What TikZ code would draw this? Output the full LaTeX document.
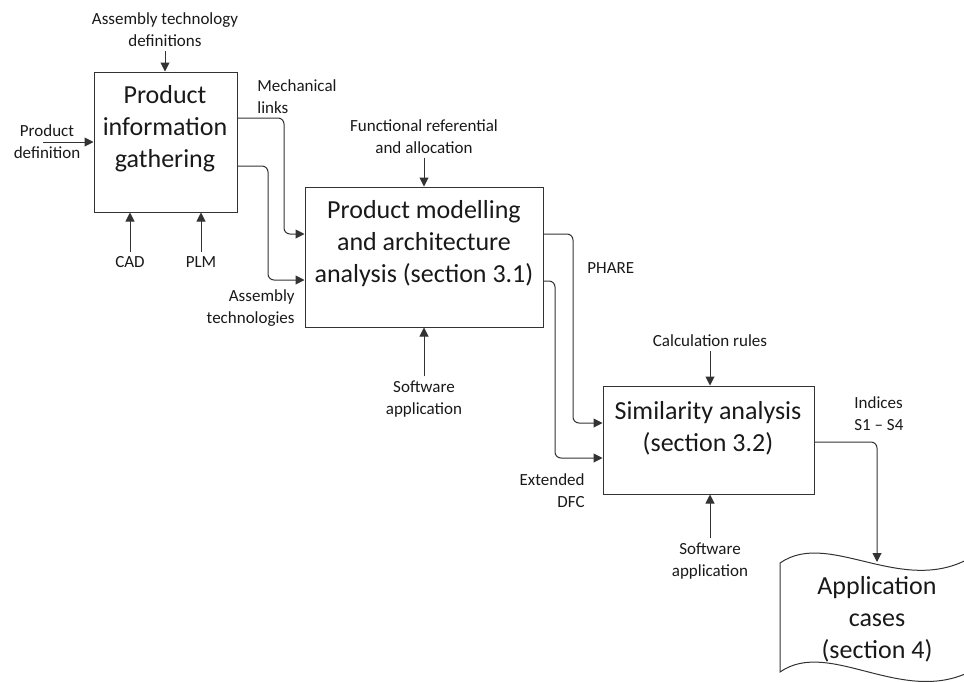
\documentclass[tikz,border=0pt]{standalone}
\usepackage{fontspec}
\setmainfont{Carlito}
\usetikzlibrary{arrows.meta}

\begin{document}
\begin{tikzpicture}
[x=0.5pt,y=-0.5pt,
 every node/.style={inner sep=2pt,text=black!90},
 lbl/.style={font=\fontsize{8.5}{11}\selectfont,align=center},
 box/.style={draw=black!80,line width=0.5pt},
 btext/.style={font=\fontsize{13}{16}\selectfont,align=center},
 arr/.style={draw=black!80,line width=0.5pt,-{Triangle[length=4.5pt,width=4.5pt]}},
 link/.style={arr,rounded corners=3pt}]
\useasboundingbox (0,0) rectangle (964,681);
% boxes
\node[box,minimum width=143pt*0.5,minimum height=140pt*0.5] (b1) at (165.5,142) {};
\node[box,minimum width=238pt*0.5,minimum height=140pt*0.5] (b2) at (424,257) {};
\node[box,minimum width=211pt*0.5,minimum height=108pt*0.5] (b3) at (708.5,440) {};
\node[btext] (t1) at (165,129) {Product\\information\\gathering};
\node[btext] (t2) at (424,244) {Product modelling\\and architecture\\analysis (section 3.1)};
\node[btext] (t3) at (708,428) {Similarity analysis\\(section 3.2)};
% document shape
\begin{scope}
\clip (0,0) rectangle (964,681);
\draw[box] (780,563) .. controls (830,528) and (905,600) .. (975,555)
  -- (975,669) .. controls (905,709) and (830,637) .. (780,672) -- cycle;
\end{scope}
\node[btext] (t4) at (877,619) {Application\\cases\\(section 4)};
\coordinate (doctop) at (877,562);
% labels
\node[lbl] (atd) at (165,30) {Assembly technology\\definitions};
\node[lbl] (pd) at (47,142) {Product\\definition};
\node[lbl] (cad) at (130,262) {CAD};
\node[lbl] (plm) at (201,262) {PLM};
\node[lbl,align=left,anchor=west] (ml) at (253,97) {Mechanical\\links};
\node[lbl,align=right,anchor=east] (at) at (299,308) {Assembly\\technologies};
\node[lbl] (far) at (424,137) {Functional referential\\and allocation};
\node[lbl] (sw1) at (424,399) {Software\\application};
\node[lbl,anchor=west] (ph) at (583,268) {PHARE};
\node[lbl,align=right,anchor=east] (dfc) at (589,491) {Extended\\DFC};
\node[lbl] (cr) at (710,341) {Calculation rules};
\node[lbl] (sw2) at (710,561) {Software\\application};
\node[lbl,align=left,anchor=west] (ind) at (850,414) {Indices\\S1 -- S4};
\coordinate (pdin) at (43,142);
% arrows
\foreach \from/\to in {atd/b1,far/b2,cr/b3}
\draw[arr] (\from.south) -- (\from.south |- \to.north);
\foreach \from/\to in {cad/b1,plm/b1,sw1/b2,sw2/b3}
\draw[arr] (\from.north) -- (\from.north |- \to.south);
\draw[arr] (pdin) -- (b1.west);
\draw[link] (b1.east |- 0,118) -| (284,234) -- (b2.west |- 0,234);
\draw[link] (b1.east |- 0,166) -| (268,280) -- (b2.west |- 0,280);
\draw[link] (b2.east |- 0,234) -| (573,423) -- (b3.west |- 0,423);
\draw[link] (b2.east |- 0,281) -| (555,458) -- (b3.west |- 0,458);
\draw[link] (b3.east |- 0,442) -| (doctop);
\end{tikzpicture}
\end{document}
